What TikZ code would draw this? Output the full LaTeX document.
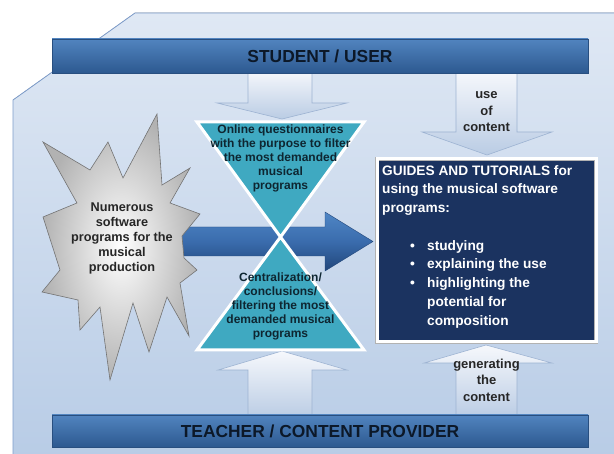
\documentclass[tikz,border=0pt]{standalone}
\usepackage{fontspec}
\setmainfont{Liberation Sans}

\definecolor{paneltop}{HTML}{DFE8F4}
\definecolor{panelbottom}{HTML}{B8CCE6}
\definecolor{panelline}{HTML}{7E9DCB}
\definecolor{bartop}{HTML}{5184BF}
\definecolor{barbottom}{HTML}{2D5990}
\definecolor{barline}{HTML}{284F80}
\definecolor{bartext}{HTML}{0C1828}
\definecolor{arrowtop}{HTML}{F6F8FC}
\definecolor{arrowbottom}{HTML}{BACCE4}
\definecolor{arrowline}{HTML}{9DB3D2}
\definecolor{flowtop}{HTML}{4F86C5}
\definecolor{flowmid}{HTML}{3A6CAD}
\definecolor{flowbottom}{HTML}{21467A}
\definecolor{hourfill}{HTML}{3FA9C1}
\definecolor{hourtext}{HTML}{0E2631}
\definecolor{guidefill}{HTML}{1B3360}

\tikzset{
  bar/.style={draw=barline, top color=bartop, bottom color=barbottom, minimum width=536pt,
    inner sep=0pt, text=bartext, font=\fontsize{17.4}{20}\selectfont\bfseries},
  blockarrow/.style={draw=arrowline, line width=0.6pt, top color=arrowtop, bottom color=arrowbottom},
  hourglass/.style={fill=hourfill, draw=white, line width=3pt},
  hourlabel/.style={align=center, text=hourtext, font=\fontsize{12}{14}\selectfont\bfseries},
  arrowlabel/.style={align=center, text=black!85, font=\fontsize{13}{16.5}\selectfont\bfseries},
}

\begin{document}
\begin{tikzpicture}[x=1pt, y=-1pt]
    \useasboundingbox (0,0) rectangle (614,454);
    \fill[white] (0,0) rectangle (614,454);
    \fill[top color=paneltop, bottom color=panelbottom] (135,13) -- (620,13) -- (620,460) -- (13,460) -- (13,100) -- cycle;
    \draw[panelline, line width=0.8pt] (620,13) -- (135,13) -- (13,100) -- (13,460);

    \draw[draw=flowbottom, top color=flowtop, bottom color=flowbottom, middle color=flowmid]
        (176,227) -- (325,227) -- (325,212) -- (373,241.5) -- (325,271) -- (325,256) -- (176,256) -- cycle;

    \draw[draw=black!55, line width=0.6pt, inner color=white, outer color=black!30]
        (43,142) -- (90,170) -- (108,142) -- (123,178) -- (157,114) -- (162,185) -- (190,168)
        -- (170,203) -- (200,214) -- (182,236) -- (184,258) -- (197,270) -- (180,283) -- (189,336)
        -- (167,297) -- (149,352) -- (133,303) -- (110,380) -- (100,307) -- (80,330) -- (78,300)
        -- (42,292) -- (60,270) -- (43,217) -- (77,203) -- cycle;
    \node[align=center, font=\fontsize{12.7}{15}\selectfont\bfseries, text=black!85] (software) at (122,238)
        {Numerous\\software\\programs for the\\musical\\production};

    \draw[blockarrow] (248,70) -- (312,70) -- (312,103) -- (347,103) -- (282,119) -- (217,103) -- (248,103) -- cycle;
    \draw[blockarrow] (248,418) -- (248,370) -- (218,370) -- (282,351) -- (347,370) -- (312,370) -- (312,418) -- cycle;
    \draw[blockarrow] (456,70) -- (517,70) -- (517,132) -- (552,132) -- (487,155) -- (422,132) -- (456,132) -- cycle;
    \draw[blockarrow] (456,418) -- (456,363) -- (424,363) -- (486,345) -- (552,363) -- (517,363) -- (517,418) -- cycle;

    \draw[hourglass] (197,122) -- (364,122) -- (280.5,237) -- cycle;
    \draw[hourglass] (280.5,237) -- (364,350) -- (197,350) -- cycle;
    \node[hourlabel] (online) at (280.5,158)
        {Online questionnaires\\with the purpose to filter\\the most demanded\\musical\\programs};
    \node[hourlabel] (central) at (280.5,306)
        {Centralization/\\conclusions/\\filtering the most\\demanded musical\\programs};

    \node[bar, minimum height=34pt] (student) at (320,56) {STUDENT / USER};
    \node[bar, minimum height=32pt] (teacher) at (320,431) {TEACHER / CONTENT PROVIDER};

    \node[arrowlabel] (use) at (486.5,112) {use\\of\\content};
    \node[arrowlabel] (generating) at (486.5,380) {generating\\the\\content};

    \node[draw=black!30, double=white, double distance=3pt, fill=guidefill, minimum width=219pt,
        minimum height=183pt, inner sep=0pt] (guides) at (486.5,250.5) {};
    \node[anchor=north west, inner sep=0pt, align=left, text=white, font=\fontsize{13.7}{18.75}\selectfont\bfseries]
        (guidelist) at (382,165)
        {GUIDES AND TUTORIALS for\\using the musical software\\programs:\\[18.75pt]
         \hspace*{28pt}\makebox[17pt][l]{\textbullet}studying\\
         \hspace*{28pt}\makebox[17pt][l]{\textbullet}explaining the use\\
         \hspace*{28pt}\makebox[17pt][l]{\textbullet}highlighting the\\
         \hspace*{45pt}potential for\\
         \hspace*{45pt}composition};
\end{tikzpicture}
\end{document}
